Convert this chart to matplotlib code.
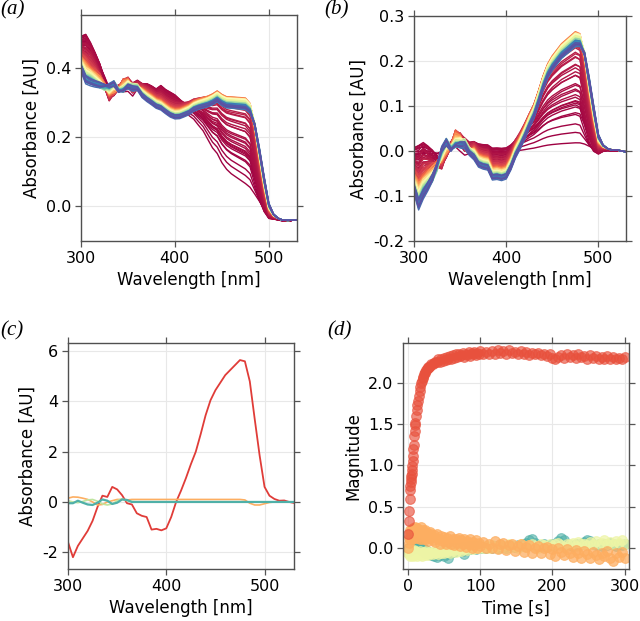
import numpy as np
import matplotlib
matplotlib.use("Agg")
import matplotlib.pyplot as plt

plt.rcParams["font.family"] = ["DejaVu Sans"]
plt.rcParams["axes.unicode_minus"] = False

# wavelength grid of the spectra [nm]
WAVELENGTH = np.arange(300, 531, 5)

# dark (pre-illumination) absorbance spectrum (a)/(b)
DARK_SPECTRUM = [0.484, 0.485, 0.455, 0.433, 0.41, 0.38, 0.345, 0.335, 0.33, 0.322,
                 0.333, 0.328, 0.345, 0.334, 0.339, 0.334, 0.326, 0.343, 0.331, 0.324,
                 0.315, 0.296, 0.275, 0.261, 0.249, 0.23, 0.212, 0.185, 0.158, 0.14,
                 0.112, 0.092, 0.078, 0.068, 0.058, 0.048, 0.037, 0.02, 0.004, -0.014,
                 -0.028, -0.036, -0.04, -0.042, -0.043, -0.04, -0.038]

# component spectra, panel (c)
COMP_RED = [-1.6, -2.2, -1.75, -1.45, -1.15, -0.75, -0.2, 0.25, 0.2, 0.6,
            0.5, 0.27, -0.05, -0.1, -0.45, -0.55, -0.6, -1.1, -1.07, -1.13,
            -1.05, -0.6, 0.0, 0.45, 0.95, 1.5, 2.0, 2.7, 3.45, 4.05,
            4.45, 4.75, 5.05, 5.25, 5.45, 5.65, 5.6, 4.8, 3.3, 1.85,
            0.6, 0.25, 0.12, 0.05, 0.06, 0.0, -0.04]
COMP_ORANGE = [0.15, 0.2, 0.19, 0.15, 0.1, 0.0, -0.12, -0.1, 0.0, 0.05,
               0.1, 0.1, 0.08, 0.1, 0.1, 0.1, 0.1, 0.1, 0.1, 0.1,
               0.1, 0.1, 0.1, 0.1, 0.1, 0.1, 0.1, 0.1, 0.1, 0.1,
               0.1, 0.1, 0.1, 0.1, 0.1, 0.1, 0.08, -0.05, -0.12, -0.12,
               -0.07, -0.02, 0.0, 0.0, 0.0, 0.0, 0.0]
COMP_GREEN = [0.05, 0.0, -0.03, 0.02, 0.08, 0.1, 0.03, -0.08, -0.12, -0.08,
              0.05, 0.12, 0.05, 0.02, 0.0, 0.0, 0.0, 0.0, 0.0, 0.0,
              0.0, 0.0, 0.0, 0.0, 0.0, 0.0, 0.0, 0.0, 0.0, 0.0,
              0.0, 0.0, 0.0, 0.0, 0.0, 0.0, 0.0, 0.0, 0.0, 0.0,
              0.0, 0.0, 0.0, 0.0, 0.0, 0.0, 0.0]
COMP_TEAL = [-0.05, -0.05, 0.05, -0.03, -0.1, -0.12, -0.03, 0.1, 0.05, -0.08,
             -0.03, 0.1, 0.08, 0.0, 0.0, 0.0, 0.0, 0.0, 0.0, 0.0,
             0.0, 0.0, 0.0, 0.0, 0.0, 0.0, 0.0, 0.0, 0.0, 0.0,
             0.0, 0.0, 0.0, 0.0, 0.0, 0.0, 0.0, 0.0, 0.0, 0.0,
             0.0, 0.0, 0.0, 0.0, 0.0, 0.0, 0.0]

# acquisition times [s]
TIME = np.concatenate([np.arange(0.5, 10.01, 0.5), np.arange(11, 31, 1),
                       np.arange(32, 101, 2), np.arange(104, 301, 4)])

# magnitudes, panel (d)
MAG_RED = [0.17, 0.33, 0.45, 0.59, 0.70, 0.75, 0.80, 0.84, 0.87, 0.90,
           0.94, 0.99, 1.06, 1.12, 1.20, 1.25, 1.36, 1.42, 1.49, 1.52,
           1.60, 1.67, 1.73, 1.79, 1.84, 1.91, 1.95, 2.00, 2.03, 2.06,
           2.08, 2.11, 2.13, 2.14, 2.16, 2.17, 2.18, 2.20, 2.20, 2.21,
           2.23, 2.24, 2.25, 2.26, 2.26,
           2.29, 2.26, 2.30, 2.27, 2.31, 2.28, 2.32, 2.29, 2.33, 2.30,
           2.34, 2.31, 2.35, 2.32, 2.36, 2.33, 2.34, 2.37, 2.32, 2.36,
           2.34, 2.38, 2.33, 2.37, 2.35, 2.38, 2.34, 2.37, 2.35, 2.39,
           2.35, 2.38, 2.36, 2.39, 2.35, 2.40, 2.37, 2.39, 2.36, 2.40,
           2.37, 2.38, 2.35, 2.39, 2.36, 2.38, 2.34, 2.37, 2.35, 2.37,
           2.34, 2.36, 2.33, 2.35, 2.31, 2.29, 2.32, 2.34, 2.31, 2.35,
           2.32, 2.34, 2.31, 2.35, 2.32, 2.33, 2.30, 2.34, 2.31, 2.33,
           2.29, 2.32, 2.30, 2.33, 2.29, 2.32, 2.30, 2.31, 2.29, 2.32]
MAG_ORANGE = [0.00, 0.06, 0.12, 0.18, 0.10, 0.22, 0.12, 0.20, 0.13, 0.23,
              0.11, 0.19, 0.24, 0.14, 0.21, 0.12, 0.22, 0.16, 0.25, 0.13,
              0.21, 0.12, 0.24, 0.16, 0.22, 0.11, 0.20, 0.25, 0.14, 0.21,
              0.10, 0.19, 0.15, 0.22, 0.11, 0.18, 0.08, 0.17, 0.12, 0.19,
              0.17, 0.09, 0.15, 0.07, 0.16, 0.10, 0.05, 0.14, 0.08, 0.13,
              0.04, 0.12, 0.07, 0.14, 0.05, 0.11, 0.03, 0.10, 0.06, 0.12,
              0.02, 0.09, 0.05, 0.11, 0.01, 0.08, 0.04, 0.10, 0.00, 0.07,
              0.03, 0.09, -0.01, 0.06, 0.02,
              0.07, -0.01, 0.05, 0.00, 0.08, -0.02, 0.04, 0.06, -0.03, 0.03,
              0.05, -0.04, 0.02, 0.04, -0.05, 0.01, 0.03, -0.06, 0.00, 0.02,
              -0.07, -0.01, 0.01, -0.08, -0.02, -0.10, -0.01, -0.05, -0.09, -0.02,
              -0.07, -0.11, -0.03, -0.06, -0.12, -0.04, -0.08, -0.13, -0.05, -0.09,
              -0.14, -0.06, -0.10, -0.04, -0.12, -0.16, -0.07, -0.11, -0.05, -0.13]
MAG_YELLOW = [-0.06, -0.02, -0.08, -0.04, -0.10, -0.05, -0.07, -0.03, -0.09, -0.06,
              -0.04, -0.08, -0.05, -0.10, -0.07, -0.03, -0.09, -0.06, -0.08, -0.04,
              -0.07, -0.10, -0.05, -0.08, -0.06, -0.09, -0.04, -0.07, -0.10, -0.06,
              -0.08, -0.05, -0.09, -0.07, -0.04, -0.08, -0.06, -0.09, -0.05, -0.07,
              -0.06, -0.08, -0.04, -0.07, -0.05, -0.08, -0.03, -0.06, -0.04, -0.07,
              -0.02, -0.05, -0.03, -0.06, -0.01, -0.04, -0.02, -0.05, 0.00, -0.03,
              -0.01, -0.04, 0.01, -0.02, 0.00, -0.03, 0.02, -0.01, 0.01, -0.02,
              0.02, 0.00, 0.01, -0.01, 0.03,
              0.00, 0.02, -0.01, 0.03, 0.01, 0.00, 0.03, 0.02, -0.01, 0.04,
              0.01, 0.02, 0.00, 0.04, 0.02, 0.01, 0.03, 0.05, 0.02, 0.00,
              0.04, 0.03, 0.01, 0.05, 0.02, 0.04, 0.06, 0.03, 0.01, 0.05,
              0.04, 0.06, 0.02, 0.07, 0.04, 0.05, 0.03, 0.07, 0.05, 0.08,
              0.04, 0.06, 0.09, 0.05, 0.07, 0.04, 0.08, 0.06, 0.09, 0.05]
MAG_TEAL = [-0.03, -0.01, -0.04, 0.00, -0.02, 0.01, -0.03, 0.00, 0.02, -0.01,
            0.03, 0.01, 0.05, 0.02, 0.07, 0.04, 0.06, 0.02, 0.05, 0.01,
            0.04, 0.06, 0.02, 0.03, 0.00, 0.01, -0.02, 0.00, -0.03, -0.01,
            -0.04, -0.02, -0.05, -0.03, -0.06, -0.04, -0.07, -0.05, -0.08, -0.06,
            -0.09, -0.07, -0.10, -0.08, -0.11, -0.06, -0.09, -0.05, -0.07, -0.10,
            -0.05, -0.08, -0.12, -0.06, -0.04, -0.05, -0.03, -0.04, -0.02, -0.03,
            -0.01, -0.02, -0.04, -0.08, -0.03, -0.01, 0.00, -0.02, 0.01, -0.01,
            0.00, -0.02, 0.00, 0.01, -0.01,
            0.00, -0.01, 0.01, 0.00, 0.02, -0.01, 0.01, 0.02, 0.00, 0.01,
            0.02, 0.01, 0.03, 0.02, 0.04, 0.06, 0.09, 0.10, 0.06, 0.03,
            0.02, 0.04, 0.02, 0.03, 0.05, 0.03, 0.08, 0.12, 0.09, 0.05,
            0.03, 0.02, 0.04, 0.03, 0.05, 0.07, 0.09, 0.08, 0.05, 0.03,
            0.04, 0.02, 0.05, 0.03, 0.06, 0.04, 0.02, 0.05, 0.03, 0.04]

RED_LINE, RED_DOT = "#e03c38", "#e8513d"
ORANGE, YELLOW, GREEN, TEAL = "#fdae61", "#eef5a5", "#bfe5a0", "#4fb0a8"
MAIN_SCALE = 0.019   # absorbance per unit of red component x magnitude
MINOR_SCALE = 1.0


def style(ax):
    ax.tick_params(which="both", direction="out", length=4, width=0.9, color="#555555",
                   top=True, right=True, labelsize=11.5, pad=3)
    for s in ax.spines.values():
        s.set_color("#505050")
        s.set_linewidth(1.0)
    ax.grid(True, color="#e8e8e8", lw=0.8)
    ax.set_axisbelow(True)


fig = plt.figure(figsize=(6.4, 6.21), dpi=100)
ax_a = fig.add_axes([0.1266, 0.6119, 0.3375, 0.3639])
ax_b = fig.add_axes([0.6469, 0.6119, 0.3313, 0.3623])
ax_c = fig.add_axes([0.1063, 0.0837, 0.3531, 0.364])
ax_d = fig.add_axes([0.6297, 0.0837, 0.3531, 0.364])

dark = np.array(DARK_SPECTRUM)
c_red, c_or, c_gr, c_te = (np.array(v) for v in (COMP_RED, COMP_ORANGE, COMP_GREEN, COMP_TEAL))
cmap = plt.get_cmap("Spectral")
for i, t in enumerate(TIME):
    diff = (MAIN_SCALE * c_red * MAG_RED[i]
            + MINOR_SCALE * (c_or * MAG_ORANGE[i] + c_gr * MAG_YELLOW[i] + c_te * MAG_TEAL[i]))
    col = cmap(t / 300.0)
    ax_a.plot(WAVELENGTH, dark + diff, color=col, lw=1.0)
    ax_b.plot(WAVELENGTH, diff, color=col, lw=1.0)

ax_a.set_xlim(300, 530)
ax_a.set_ylim(-0.1, 0.553)
ax_a.set_yticks([0.0, 0.2, 0.4])
ax_b.set_xlim(300, 530)
ax_b.set_ylim(-0.2, 0.3)
ax_b.set_yticks([-0.2, -0.1, 0.0, 0.1, 0.2, 0.3])

ax_c.plot(WAVELENGTH, COMP_RED, color=RED_LINE, lw=1.3)
ax_c.plot(WAVELENGTH, COMP_ORANGE, color=ORANGE, lw=1.2)
ax_c.plot(WAVELENGTH, COMP_GREEN, color=GREEN, lw=1.2)
ax_c.plot(WAVELENGTH, COMP_TEAL, color=TEAL, lw=1.6)
ax_c.set_xlim(300, 530)
ax_c.set_ylim(-2.67, 6.33)
ax_c.set_yticks([-2, 0, 2, 4, 6])

for vals, col, al in ((MAG_TEAL, TEAL, 0.6), (MAG_YELLOW, YELLOW, 0.7),
                      (MAG_ORANGE, ORANGE, 0.75), (MAG_RED, RED_DOT, 0.65)):
    ax_d.plot(TIME, vals, "o", ls="none", color=col, ms=7, alpha=al, mew=0.8)
ax_d.set_xlim(-7, 306)
ax_d.set_ylim(-0.26, 2.49)
ax_d.set_xticks([0, 100, 200, 300])
ax_d.set_yticks([0.0, 0.5, 1.0, 1.5, 2.0])

for ax in (ax_a, ax_b, ax_c, ax_d):
    style(ax)
for ax in (ax_a, ax_b, ax_c):
    ax.set_xticks([300, 400, 500])
    ax.set_xlabel("Wavelength [nm]", fontsize=12)
    ax.set_ylabel("Absorbance [AU]", fontsize=12)
ax_d.set_xlabel("Time [s]", fontsize=12)
ax_d.set_ylabel("Magnitude", fontsize=12)

for x, y, lab in ((0.0, 1.0, "(a)"), (0.507, 1.0, "(b)"), (0.0, 0.483, "(c)"), (0.511, 0.483, "(d)")):
    fig.text(x, y, lab, ha="left", va="top", fontsize=15, style="italic",
             family=["Liberation Serif", "DejaVu Serif"])

fig.savefig("out.png", dpi=100)
